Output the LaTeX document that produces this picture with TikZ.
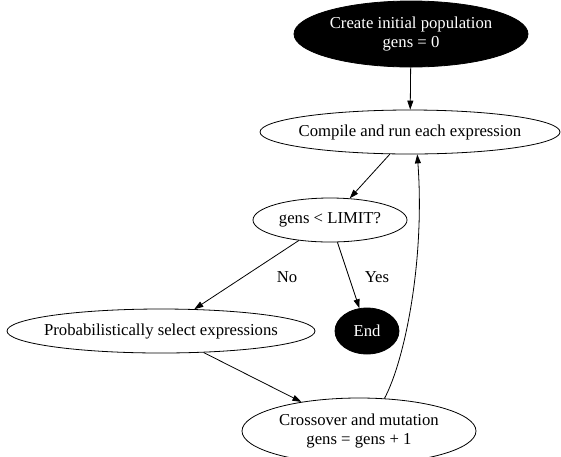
\documentclass[tikz,border=0pt]{standalone}
\usepackage{fontspec}
\setmainfont{Liberation Serif}
\usetikzlibrary{shapes.geometric,arrows.meta}

\begin{document}
\begin{tikzpicture}[x=1pt,y=-1pt,
    state/.style={ellipse,draw=black,line width=0.8pt,inner xsep=-15pt,inner ysep=0pt,align=center,
      font=\fontsize{16.7}{18.5}\selectfont},
    darkstate/.style={state,fill=black,text=white},
    edge/.style={draw=black,line width=0.8pt,-{Triangle[length=9pt,width=6pt]}},
    lbl/.style={inner sep=0pt,font=\fontsize{16.7}{18.5}\selectfont}]
  \useasboundingbox (0,0) rectangle (561,456);
  \node[darkstate,minimum width=234pt,minimum height=66pt] (create) at (411,34) {Create initial population\\gens = 0};
  \node[state,minimum width=300pt,minimum height=44pt] (compile) at (410,132) {Compile and run each expression};
  \node[state,minimum width=154pt,minimum height=44pt] (limit) at (330,220) {gens < LIMIT?};
  \node[state,minimum width=308pt,minimum height=44pt] (select) at (161,331) {Probabilistically select expressions};
  \node[darkstate,minimum width=64pt,minimum height=46pt] (end) at (367,331) {End};
  \node[state,minimum width=234pt,minimum height=66pt] (cross) at (359,431) {Crossover and mutation\\gens = gens + 1};
  \node[lbl] (no) at (287,277) {No};
  \node[lbl] (yes) at (377,277) {Yes};
  \draw[edge] (create) -- (compile);
  \draw[edge] (compile) -- (limit);
  \draw[edge] (limit) -- (select);
  \draw[edge] (limit) -- (end);
  \draw[edge] (select) -- (cross);
  \draw[edge] (cross.52) .. controls (405,360) and (425,260) .. (compile.-72);
\end{tikzpicture}
\end{document}
